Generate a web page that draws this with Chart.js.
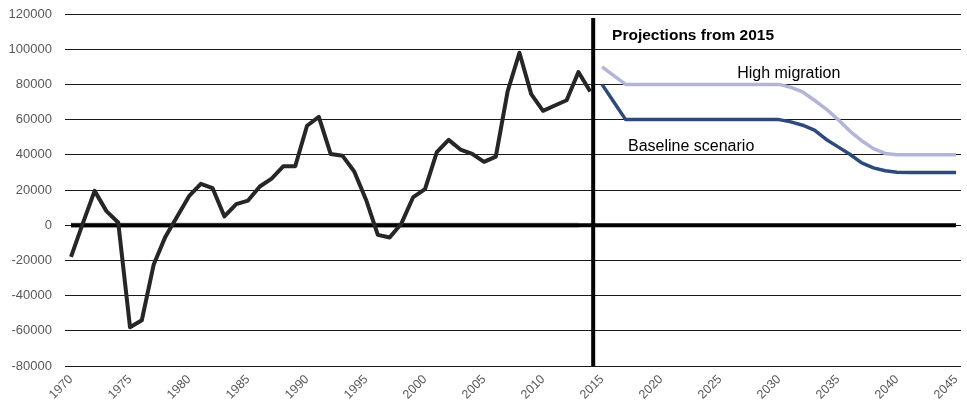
<!DOCTYPE html>
<html>
<head>
<meta charset="utf-8">
<script src="https://cdn.jsdelivr.net/npm/chart.js@4"></script>
<style>
  html, body { margin: 0; padding: 0; background: #fff; }
  #wrap { width: 967px; height: 409px; position: relative; }
</style>
</head>
<body>
<div id="wrap"><canvas id="migChart"></canvas></div>
<script>
// data
const histYears = [1970, 1971, 1972, 1973, 1974, 1975, 1976, 1977, 1978, 1979,
  1980, 1981, 1982, 1983, 1984, 1985, 1986, 1987, 1988, 1989,
  1990, 1991, 1992, 1993, 1994, 1995, 1996, 1997, 1998, 1999,
  2000, 2001, 2002, 2003, 2004, 2005, 2006, 2007, 2008, 2009,
  2010, 2011, 2012, 2013, 2014];
const netMigration = [-18000, 1000, 19500, 8000, 1500, -58000, -54000, -22500, -6500, 5000,
  16500, 23500, 21000, 5000, 12000, 14000, 22000, 26500, 33500, 33500,
  56500, 61500, 40500, 39500, 30500, 14500, -5500, -7000, 1000, 16000,
  20500, 41500, 48500, 43000, 40500, 36000, 39000, 76000, 98000, 74500,
  65000, 68000, 71000, 87000, 76000];

const projYears = [2015, 2016, 2017, 2018, 2019, 2020, 2021, 2022, 2023, 2024,
  2025, 2026, 2027, 2028, 2029, 2030, 2031, 2032, 2033, 2034,
  2035, 2036, 2037, 2038, 2039, 2040, 2041, 2042, 2043, 2044, 2045];
const highMigration = [90000, 85000, 80000, 80000, 80000, 80000, 80000, 80000, 80000, 80000,
  80000, 80000, 80000, 80000, 80000, 80000, 78300, 75700, 71000, 66000,
  60000, 53500, 48000, 43500, 40800, 40000, 40000, 40000, 40000, 40000, 40000];
const baseline = [80000, 70000, 60000, 60000, 60000, 60000, 60000, 60000, 60000, 60000,
  60000, 60000, 60000, 60000, 60000, 60000, 58700, 56800, 54000, 48700,
  44500, 40300, 35400, 32600, 30900, 30100, 30000, 30000, 30000, 30000, 30000];

const zeroLine = [[1970, 0], [2045, 0]];
const zeroTint = [[1970, 0], [2013, 0]];
const dividerYear = 2014.25;
const dividerRange = [-80000, 117700];

const xTicks = [1970, 1975, 1980, 1985, 1990, 1995, 2000, 2005, 2010, 2015,
  2020, 2025, 2030, 2035, 2040, 2045];

// text notes: [text, x year, y value, bold]
const notes = [
  ['Projections from 2015', 2015.85, 107400, true],
  ['High migration', 2026.45, 86400, false],
  ['Baseline scenario', 2017.2, 44900, false],
];

const pts = (xs, ys) => xs.map((x, i) => ({ x, y: ys[i] }));
const pairs = (arr) => arr.map(p => ({ x: p[0], y: p[1] }));

const notePlugin = {
  id: 'notes',
  afterDatasetsDraw(chart) {
    const { ctx, scales } = chart;
    ctx.save();
    ctx.fillStyle = '#000';
    ctx.textBaseline = 'middle';
    ctx.textAlign = 'left';
    notes.forEach(([txt, xv, yv, bold]) => {
      ctx.font = (bold ? 'bold 15.5px' : '16px') + ' "Liberation Sans", Arial, sans-serif';
      ctx.fillText(txt, scales.x.getPixelForValue(xv), scales.y.getPixelForValue(yv));
    });
    ctx.restore();
  }
};

const line = (data, color, width, extra) => Object.assign({
  data, borderColor: color, borderWidth: width, pointRadius: 0,
  tension: 0, fill: false, borderJoinStyle: 'round'
}, extra || {});

new Chart(document.getElementById('migChart'), {
  type: 'line',
  data: {
    datasets: [
      line(pts(histYears, netMigration), '#262626', 4),
      line(pts(projYears, highMigration), '#b3b5d8', 3.5),
      line(pts(projYears, baseline), '#2e4a7c', 3.5),
      line([{ x: dividerYear, y: dividerRange[0] }, { x: dividerYear, y: dividerRange[1] }], '#000', 4),
      line(pairs(zeroLine), '#000', 4),
      line(pairs(zeroTint), '#c3c8dc', 5.5),
    ],
  },
  options: {
    responsive: true,
    maintainAspectRatio: false,
    animation: false,
    layout: { padding: { top: 14, right: 6, left: 0, bottom: 0 } },
    plugins: { legend: { display: false }, tooltip: { enabled: false } },
    scales: {
      x: {
        type: 'linear',
        min: 1969.49,
        max: 2045.42,
        grid: { display: false, drawTicks: false },
        border: { display: false },
        afterBuildTicks: (s) => { s.ticks = xTicks.map(v => ({ value: v })); },
        afterFit: (s) => { s.height = 43; s.paddingRight = 0; },
        ticks: {
          color: '#595959',
          font: { family: '"Liberation Sans", Arial, sans-serif', size: 12.5 },
          minRotation: 45,
          maxRotation: 45,
          padding: 6,
          callback: (v) => String(v),
        },
      },
      y: {
        min: -80000,
        max: 120000,
        grid: { color: '#1a1a1a', lineWidth: 1, drawTicks: false },
        border: { display: false },
        afterFit: (s) => { s.width = 65; s.paddingTop = 0; s.paddingBottom = 0; },
        ticks: {
          stepSize: 20000,
          color: '#595959',
          padding: 13,
          font: { family: '"Liberation Sans", Arial, sans-serif', size: 13 },
          callback: (v) => String(v),
        },
      },
    },
  },
  plugins: [notePlugin],
});
</script>
</body>
</html>
